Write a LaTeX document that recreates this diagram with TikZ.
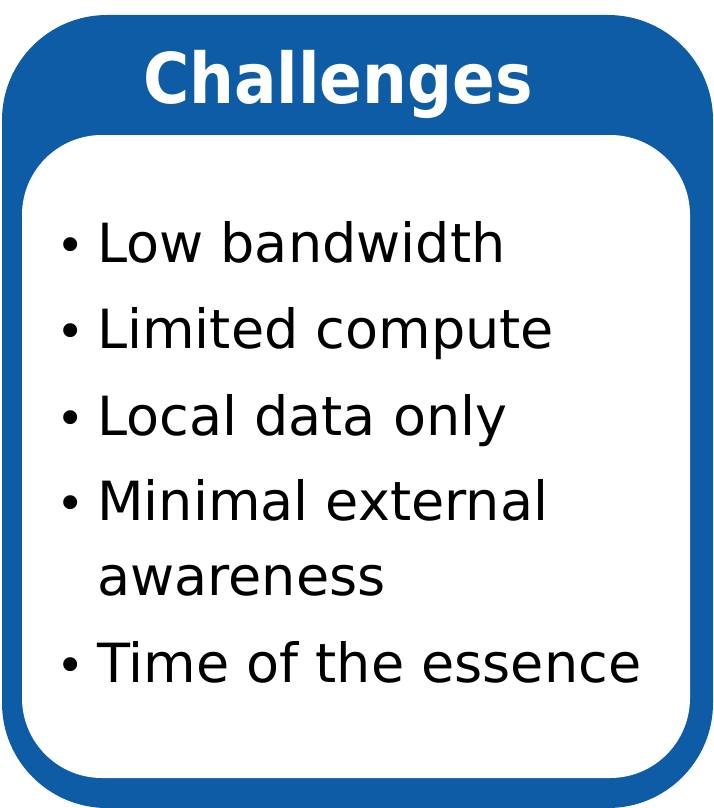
\documentclass[tikz,border=0pt]{standalone}
\usepackage{fontspec}
\setmainfont{DejaVu Sans}
\newfontfamily\condbold{DejaVu Sans Condensed Bold}
\definecolor{cblue}{RGB}{14,92,166}
\begin{document}
\begin{tikzpicture}[x=1pt,y=-1pt,
  item/.style={anchor=base west,font=\fontsize{54}{56}\selectfont,inner sep=0pt},
  dot/.style={anchor=base west,font=\fontsize{48}{50}\selectfont,inner sep=0pt}]
\useasboundingbox (0,0) rectangle (713,808);
\fill[cblue,rounded corners=105pt] (2,15) rectangle (713,808) node[pos=0] (outer) {};
\fill[white,rounded corners=80pt] (22,135) rectangle (690,778) node[pos=0] (inner) {};
\node[anchor=base,text=white,font=\fontsize{70}{72}\selectfont\condbold,inner sep=0pt] (title) at (338,103) {Challenges};
\foreach \t/\y [count=\i] in {Low bandwidth/262, Limited compute/348, Local data only/435, Minimal external/520, Time of the essence/682}{
  \node[dot] (d\i) at (56,\y) {•};
  \node[item] (t\i) at (97,\y) {\t};
}
\node[item] (t6) at (97,595) {awareness};
\end{tikzpicture}
\end{document}
